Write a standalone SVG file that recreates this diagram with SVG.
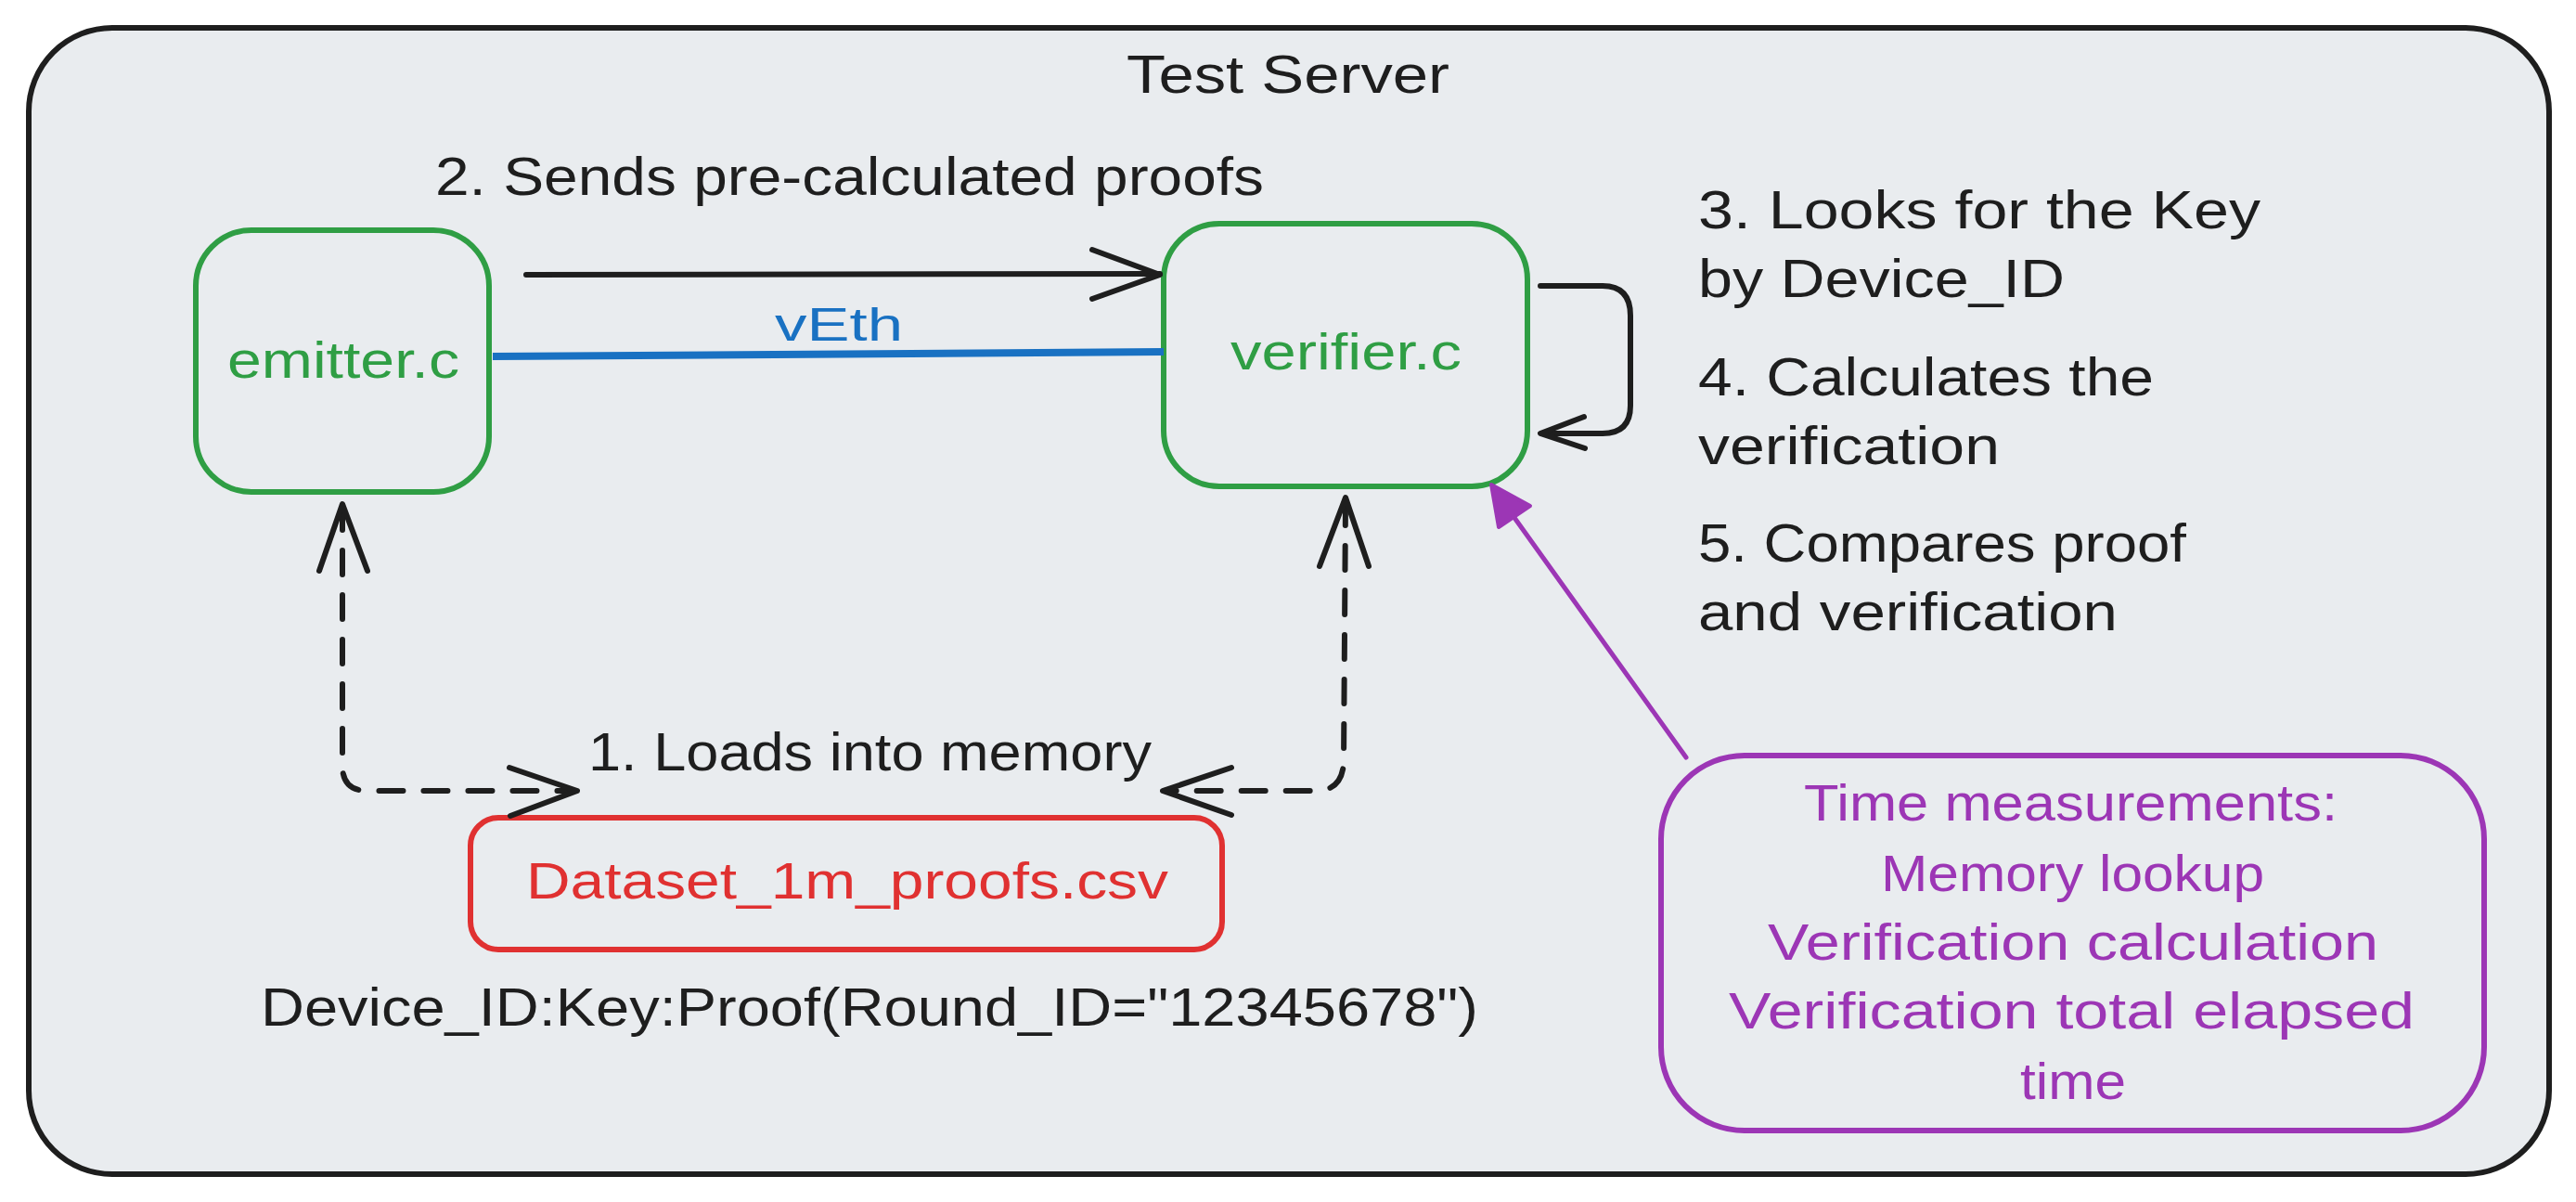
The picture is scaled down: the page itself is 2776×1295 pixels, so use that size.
<svg xmlns="http://www.w3.org/2000/svg" width="2776" height="1295" viewBox="0 0 2776 1295">
<style>
text{font-family:"Liberation Sans","DejaVu Sans",sans-serif;}
.t{font-size:58px;fill:#1e1e1e;}
.g{font-size:56px;fill:#2f9e44;}
.b{font-size:50px;fill:#1971c2;}
.r{font-size:56px;fill:#e03131;}
.p{font-size:56px;fill:#9c36b5;}
.blk{fill:none;stroke:#1e1e1e;stroke-width:6;stroke-linecap:round;stroke-linejoin:round;}
.dash{stroke-dasharray:26 22;}
</style>
<rect id="bg" x="0" y="0" width="2776" height="1295" fill="#ffffff"/>
<g id="test-server">
<rect x="31" y="30" width="2716" height="1235" rx="90" ry="90" fill="#e9ecef" stroke="#1e1e1e" stroke-width="6"/>
<text class="t" x="1214" y="100" textLength="348" lengthAdjust="spacingAndGlyphs">Test Server</text>
</g>
<g id="emitter">
<rect x="211" y="248" width="316" height="282" rx="60" ry="60" fill="none" stroke="#2f9e44" stroke-width="6"/>
<text class="g" x="245" y="407" textLength="250" lengthAdjust="spacingAndGlyphs">emitter.c</text>
</g>
<g id="verifier">
<rect x="1254" y="241" width="392" height="283" rx="60" ry="60" fill="none" stroke="#2f9e44" stroke-width="6"/>
<text class="g" x="1326" y="398" textLength="249" lengthAdjust="spacingAndGlyphs">verifier.c</text>
</g>
<g id="dataset">
<rect x="507" y="881" width="810" height="142" rx="30" ry="30" fill="none" stroke="#e03131" stroke-width="6"/>
<text class="r" x="567" y="968" textLength="692" lengthAdjust="spacingAndGlyphs">Dataset_1m_proofs.csv</text>
</g>
<g id="dataset-format">
<text class="t" x="281" y="1105" textLength="1312" lengthAdjust="spacingAndGlyphs">Device_ID:Key:Proof(Round_ID="12345678")</text>
</g>
<g id="steps">
<text class="t" x="1830" y="246" textLength="606" lengthAdjust="spacingAndGlyphs">3. Looks for the Key</text>
<text class="t" x="1830" y="320" textLength="395" lengthAdjust="spacingAndGlyphs">by Device_ID</text>
<text class="t" x="1830" y="426" textLength="491" lengthAdjust="spacingAndGlyphs">4. Calculates the</text>
<text class="t" x="1830" y="500" textLength="325" lengthAdjust="spacingAndGlyphs">verification</text>
<text class="t" x="1830" y="605" textLength="526" lengthAdjust="spacingAndGlyphs">5. Compares proof</text>
<text class="t" x="1830" y="679" textLength="452" lengthAdjust="spacingAndGlyphs">and verification</text>
</g>
<g id="time-measurements">
<rect x="1790" y="814" width="887" height="404" rx="90" ry="90" fill="none" stroke="#9c36b5" stroke-width="6"/>
<text class="p" x="1944" y="884" textLength="575" lengthAdjust="spacingAndGlyphs">Time measurements:</text>
<text class="p" x="2027" y="960" textLength="413" lengthAdjust="spacingAndGlyphs">Memory lookup</text>
<text class="p" x="1905" y="1034" textLength="658" lengthAdjust="spacingAndGlyphs">Verification calculation</text>
<text class="p" x="1863" y="1108" textLength="739" lengthAdjust="spacingAndGlyphs">Verification total elapsed</text>
<text class="p" x="2177" y="1184" textLength="114" lengthAdjust="spacingAndGlyphs">time</text>
</g>
<g id="connectors">
<path class="blk" d="M567 296 L1250 295"/>
<polyline class="blk" points="1177,269 1250,296 1177,322"/>
<text class="t" x="469" y="210" textLength="893" lengthAdjust="spacingAndGlyphs">2. Sends pre-calculated proofs</text>
<path d="M531 384 L1254 379" fill="none" stroke="#1971c2" stroke-width="8"/>
<text class="b" x="835" y="367" textLength="138" lengthAdjust="spacingAndGlyphs">vEth</text>
<path class="blk" d="M1660 308 L1727 308 Q1757 308 1757 340 L1757 437 Q1757 467 1727 467 L1662 467"/>
<polyline class="blk" points="1707,449 1660,467 1708,483"/>
<path class="blk dash" d="M369 545 L369 825 Q369 852 396 852 L620 852"/>
<polyline class="blk" points="344,615 369,543 396,615"/>
<polyline class="blk" points="549,827 622,852 550,879"/>
<path class="blk dash" d="M1450 540 L1448 822 Q1446 852 1418 852 L1256 852"/>
<polyline class="blk" points="1422,610 1450,536 1475,610"/>
<polyline class="blk" points="1327,827 1253,852 1327,878"/>
<text class="t" x="634" y="830" textLength="607" lengthAdjust="spacingAndGlyphs">1. Loads into memory</text>
<path d="M1817 816 L1625 548" fill="none" stroke="#9c36b5" stroke-width="5" stroke-linecap="round"/>
<polygon points="1607,522 1649,545 1615,568" fill="#9c36b5" stroke="#9c36b5" stroke-width="4" stroke-linejoin="round"/>
</g>
</svg>
